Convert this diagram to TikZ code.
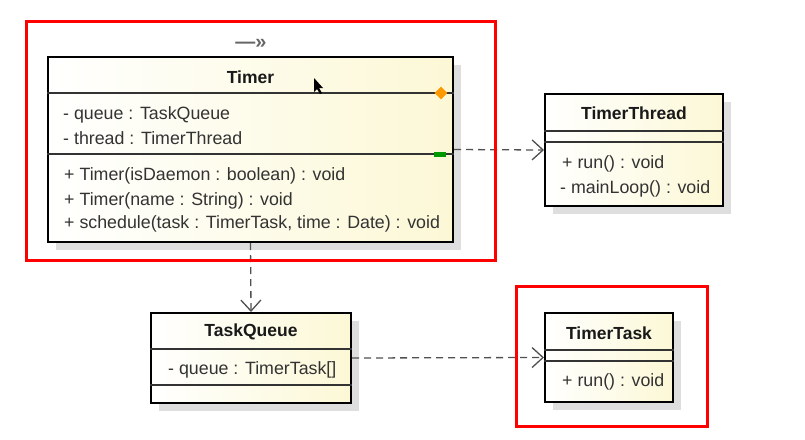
\documentclass[tikz,border=0pt]{standalone}
\usepackage{fontspec}
\setmainfont{Liberation Sans}
\usetikzlibrary{arrows.meta,shadows,shapes.geometric}
\definecolor{cream}{RGB}{252,248,214}
\definecolor{depgray}{RGB}{80,80,80}
\tikzset{
  classbox/.style={draw=black, line width=2pt, left color=white, right color=cream, inner sep=0pt,
    drop shadow={shadow xshift=8pt, shadow yshift=-8pt, fill=black!13, opacity=1}},
  sepline/.style={draw=black!80, line width=1.2pt},
  ctitle/.style={font=\fontsize{17.5}{20}\selectfont\bfseries, inner sep=0pt, text=black!90},
  member/.style={font=\fontsize{17.8}{20}\selectfont, anchor=base west, inner sep=0pt, text=black!80},
  dep/.style={draw=depgray, line width=1.3pt, dash pattern=on 7pt off 5pt,
    -{Straight Barb[length=11pt,width=20pt,line width=1.3pt]}},
  redframe/.style={draw=red, line width=3pt}
}
\begin{document}
\begin{tikzpicture}[x=1pt,y=-1pt]
\fill[white] (0,0) rectangle (805,439);
\useasboundingbox (0,0) rectangle (805,439);

% Timer
\node[classbox, minimum width=405pt, minimum height=185pt] (timer) at (250.5,149.5) {};
\node[ctitle] (timertitle) at (250.5,77) {Timer};
\draw[sepline] (timer.west |- 0,93) -- (timer.east |- 0,93);
\draw[sepline] (timer.west |- 0,154) -- (timer.east |- 0,154);
\node[member] (ta1) at (63,119) {- queue : TaskQueue};
\node[member] (ta2) at (63,144) {- thread : TimerThread};
\node[member] (tm1) at (64,180) {+ Timer(isDaemon : boolean) : void};
\node[member] (tm2) at (64,205) {+ Timer(name : String) : void};
\node[member] (tm3) at (64,228) {+ schedule(task : TimerTask, time : Date) : void};
\node[diamond, fill=orange!80!yellow, minimum size=13pt, inner sep=0pt] (dia) at (441,93) {};
\node[rectangle, fill=green!60!black, minimum width=12pt, minimum height=5pt, inner sep=0pt] (grn) at (440,154) {};
\node[text=black!60, font=\fontsize{20}{22}\selectfont\bfseries] (stereo) at (251,44) {—»};
% cursor
\fill[black] (314,78) -- (314,92) -- (317,89) -- (320,94) -- (322,93) -- (319,88) -- (323,88) -- cycle;

% TimerThread
\node[classbox, minimum width=178pt, minimum height=112pt] (thread) at (634,150) {};
\node[ctitle] (threadtitle) at (634,113) {TimerThread};
\draw[sepline] (thread.west |- 0,131) -- (thread.east |- 0,131);
\draw[sepline] (thread.west |- 0,142) -- (thread.east |- 0,142);
\node[member] (th1) at (562,168) {+ run() : void};
\node[member] (th2) at (560,193) {- mainLoop() : void};

% TaskQueue
\node[classbox, minimum width=200pt, minimum height=90pt] (queue) at (251,358) {};
\node[ctitle] (queuetitle) at (251,332) {TaskQueue};
\draw[sepline] (queue.west |- 0,349) -- (queue.east |- 0,349);
\draw[sepline] (queue.west |- 0,385) -- (queue.east |- 0,385);
\node[member] (q1) at (168,374) {- queue : TimerTask[]};

% TimerTask
\node[classbox, minimum width=128pt, minimum height=89pt] (task) at (609,357.5) {};
\node[ctitle] (tasktitle) at (609,333) {TimerTask};
\draw[sepline] (task.west |- 0,350) -- (task.east |- 0,350);
\draw[sepline] (task.west |- 0,361) -- (task.east |- 0,361);
\node[member] (tk1) at (562,386) {+ run() : void};

% dependencies
\draw[dep] (timer.east) -- (thread.west);
\draw[dep] (timer.south) -- (queue.north);
\draw[dep] (queue.east) -- (task.west);

% red frames
\draw[redframe] (26,21) rectangle (495,260);
\draw[redframe] (516,286) rectangle (707,426);
\end{tikzpicture}
\end{document}
